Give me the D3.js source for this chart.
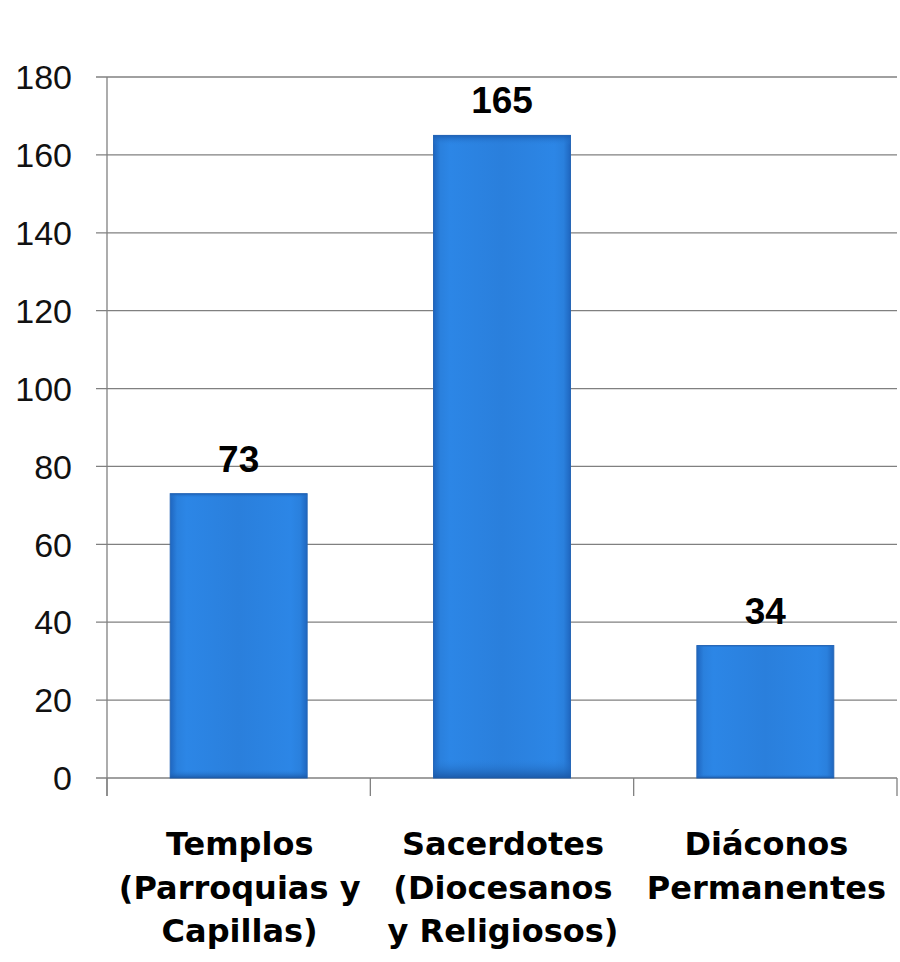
<!DOCTYPE html>
<html><head><meta charset="utf-8">
<script src="https://cdn.jsdelivr.net/npm/d3@7"></script>
<style>body{margin:0;background:#fff}svg{display:block}</style>
</head><body>
<script>
const categories = [
  ["Templos", "(Parroquias y", "Capillas)"],
  ["Sacerdotes", "(Diocesanos", "y Religiosos)"],
  ["Diáconos", "Permanentes"]
];
const values = [73, 165, 34];
const yTicks = [0, 20, 40, 60, 80, 100, 120, 140, 160, 180];

const W = 900, H = 962;
const m = {left: 107, right: 3, top: 77, bottom: 184};
const svg = d3.select("body").append("svg").attr("width", W).attr("height", H);

const x = d3.scaleBand().domain(d3.range(categories.length)).range([m.left, W - m.right]).paddingInner(0.48).paddingOuter(0.24);
const y = d3.scaleLinear().domain([0, 180]).range([H - m.bottom, m.top]);

const defs = svg.append("defs");
const gH = defs.append("linearGradient").attr("id", "gh").attr("x1", 0).attr("x2", 1).attr("y1", 0).attr("y2", 0);
[[0, "#1f66bf"], [0.05, "#2a80dd"], [0.12, "#2c86e6"], [0.5, "#2a7fdc"], [0.88, "#2c86e6"], [0.95, "#2a80dd"], [1, "#1f66bf"]]
  .forEach(([o, c]) => gH.append("stop").attr("offset", o).attr("stop-color", c));
const gV = defs.append("linearGradient").attr("id", "gv").attr("x1", 0).attr("x2", 0).attr("y1", 0).attr("y2", 1);
[[0, "#1c5fb3", 0.9], [0.015, "#2a80dd", 0.0], [0.97, "#2a80dd", 0.0], [1, "#1a56a3", 0.9]]
  .forEach(([o, c, a]) => gV.append("stop").attr("offset", o).attr("stop-color", c).attr("stop-opacity", a));

// gridlines + y ticks
svg.append("g").selectAll("line").data(yTicks).join("line")
  .attr("x1", m.left - 11).attr("x2", W - m.right)
  .attr("y1", d => y(d)).attr("y2", d => y(d))
  .attr("stroke", "#808080").attr("stroke-width", 1.3);

svg.append("g").selectAll("text").data(yTicks).join("text")
  .attr("x", 72).attr("y", d => y(d)).attr("dy", "0.36em")
  .attr("text-anchor", "end")
  .attr("font-family", "Liberation Sans, Arial, sans-serif")
  .attr("font-size", 34).attr("fill", "#111")
  .text(d => d);

// y axis line
svg.append("line").attr("x1", m.left).attr("x2", m.left).attr("y1", y(180)).attr("y2", y(0) + 18)
  .attr("stroke", "#808080").attr("stroke-width", 1.3);

// category ticks
const bounds = [m.left, ...d3.range(1, categories.length).map(i => (x(i - 1) + x.bandwidth() + x(i)) / 2), W - m.right];
svg.append("g").selectAll("line").data(bounds).join("line")
  .attr("x1", d => d).attr("x2", d => d)
  .attr("y1", y(0)).attr("y2", y(0) + 18)
  .attr("stroke", "#808080").attr("stroke-width", 1.3);

// bars
const bars = svg.append("g").selectAll("g").data(values).join("g");
bars.append("rect")
  .attr("x", (d, i) => x(i)).attr("width", x.bandwidth())
  .attr("y", d => y(d)).attr("height", d => y(0) - y(d))
  .attr("fill", "url(#gh)").attr("stroke", "#2565b5").attr("stroke-width", 1);
bars.append("rect")
  .attr("x", (d, i) => x(i)).attr("width", x.bandwidth())
  .attr("y", d => y(d)).attr("height", d => y(0) - y(d))
  .attr("fill", "url(#gv)");

// value labels
svg.append("g").selectAll("text").data(values).join("text")
  .attr("x", (d, i) => x(i) + x.bandwidth() / 2)
  .attr("y", d => y(d) - 22)
  .attr("text-anchor", "middle")
  .attr("font-family", "Liberation Sans, Arial, sans-serif")
  .attr("font-weight", "bold").attr("font-size", 37).attr("fill", "#000")
  .text(d => d);

// category labels
const cl = svg.append("g").selectAll("text").data(categories).join("text")
  .attr("text-anchor", "middle")
  .attr("font-family", "DejaVu Sans, sans-serif")
  .attr("font-weight", "bold").attr("font-size", 32).attr("fill", "#000");
cl.each(function(lines, i) {
  d3.select(this).selectAll("tspan").data(lines).join("tspan")
    .attr("x", x(i) + x.bandwidth() / 2 + 1)
    .attr("y", (l, j) => 855 + j * 43.5)
    .text(l => l);
});
</script>
</body></html>
